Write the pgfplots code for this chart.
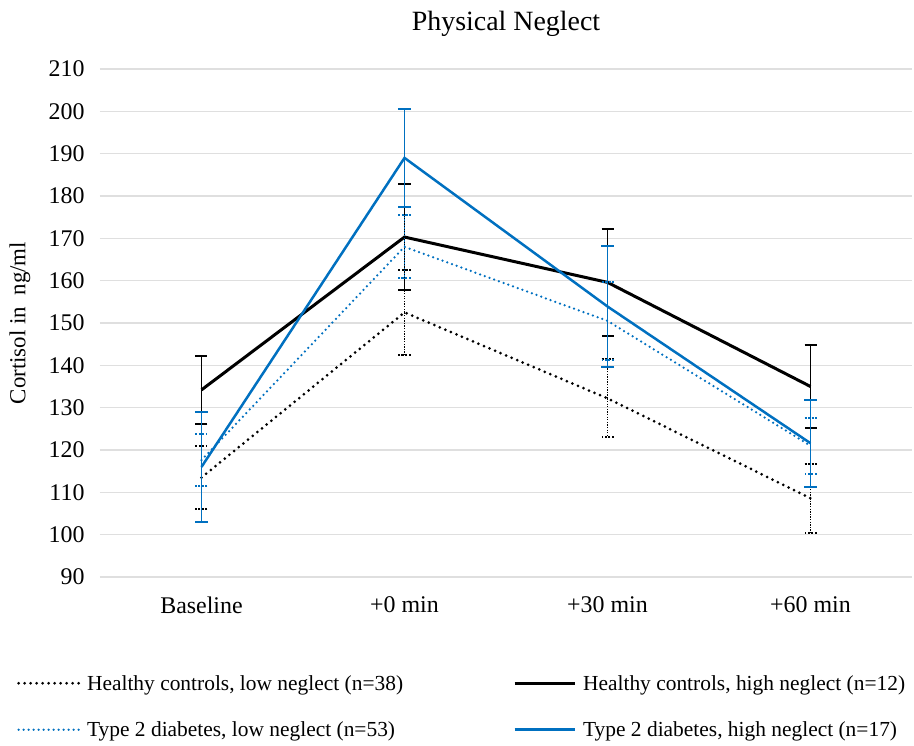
\documentclass[border=0pt]{standalone}
\usepackage{fontspec}
\setmainfont{Liberation Serif}
\usepackage{pgfplots}
\pgfplotsset{compat=1.18}
\definecolor{exblue}{RGB}{0,112,192}

\begin{document}
\begin{tikzpicture}
\begin{axis}[
    scale only axis,
    width=812bp, height=508bp,
    clip=false,
    xmin=-0.5, xmax=3.5,
    ymin=90, ymax=210,
    ytick={90,100,...,210},
    xtick={0,1,2,3},
    xticklabels={Baseline,+0 min,+30 min,+60 min},
    ymajorgrids=true,
    grid style={gray!25, line width=1.3bp},
    axis line style={draw=none},
    major tick length=0pt,
    /pgf/number format/assume math mode=true,
    ticklabel style={font=\fontsize{24}{28}\selectfont},
    yticklabel style={xshift=-12bp},
    xticklabel style={yshift=-16bp},
    title={Physical Neglect},
    title style={font=\fontsize{28}{32}\selectfont, at={(0.5,1.077)}, anchor=center},
    ylabel={Cortisol in\ \ ng/ml},
    ylabel style={font=\fontsize{23}{27}\selectfont, at={(-0.0985,0.5)}, anchor=center},
    legend columns=2,
    legend style={at={(-0.106,-0.185)}, anchor=north west, draw=none,
        font=\fontsize{21.5}{25}\selectfont,
        /tikz/every odd column/.append style={column sep=5bp},
        /tikz/every even column/.append style={column sep=108bp},
        row sep=26bp},
    legend cell align=left,
    legend image code/.code={\draw[#1] (0bp,0bp) -- (60bp,0bp);},
]
\coordinate (bl) at (rel axis cs:0,0);
% Healthy controls, low neglect
\addplot[black, line width=3bp, line cap=round, dash pattern=on 0bp off 6bp,
    error bars/y dir=both, error bars/y explicit,
    error bars/error bar style={line width=1.5bp, dash pattern=on 1.3bp off 1.3bp, line cap=butt},
    error bars/error mark options={rotate=90, line width=2bp, mark size=6bp, dash pattern=on 2bp off 1.5bp}]
coordinates {(0,113.5) +- (0,7.4) (1,152.5) +- (0,10) (2,132.2) +- (0,9.2) (3,108.6) +- (0,8.2)};
\addlegendentry{Healthy controls, low neglect (n=38)}
% Healthy controls, high neglect
\addplot[black, line width=3bp,
    error bars/y dir=both, error bars/y explicit,
    error bars/error bar style={line width=1.5bp, solid},
    error bars/error mark options={rotate=90, line width=2bp, mark size=6bp, solid}]
coordinates {(0,134.2) +- (0,8.1) (1,170.3) +- (0,12.6) (2,159.6) +- (0,12.6) (3,135) +- (0,9.8)};
\addlegendentry{Healthy controls, high neglect (n=12)}
% Type 2 diabetes, low neglect
\addplot[exblue, line width=2.5bp, line cap=round, dash pattern=on 0bp off 5bp,
    error bars/y dir=both, error bars/y explicit,
    error bars/error bar style={line width=1.5bp, dash pattern=on 1.3bp off 1.3bp, line cap=butt},
    error bars/error mark options={rotate=90, line width=2bp, mark size=6bp, dash pattern=on 2bp off 1.5bp}]
coordinates {(0,117.6) +- (0,6.2) (1,168) +- (0,7.4) (2,150.5) +- (0,9.2) (3,121) +- (0,6.6)};
\addlegendentry{Type 2 diabetes, low neglect (n=53)}
% Type 2 diabetes, high neglect
\addplot[exblue, line width=2.5bp,
    error bars/y dir=both, error bars/y explicit,
    error bars/error bar style={line width=1.8bp, solid},
    error bars/error mark options={rotate=90, line width=2bp, mark size=6.5bp, solid}]
coordinates {(0,116) +- (0,13) (1,189) +- (0,11.6) (2,153.9) +- (0,14.4) (3,121.6) +- (0,10.3)};
\addlegendentry{Type 2 diabetes, high neglect (n=17)}
\end{axis}
\pgfresetboundingbox
\path ([shift={(-100bp,-169bp)}]bl) rectangle ([shift={(814bp,577bp)}]bl);
\end{tikzpicture}
\end{document}
